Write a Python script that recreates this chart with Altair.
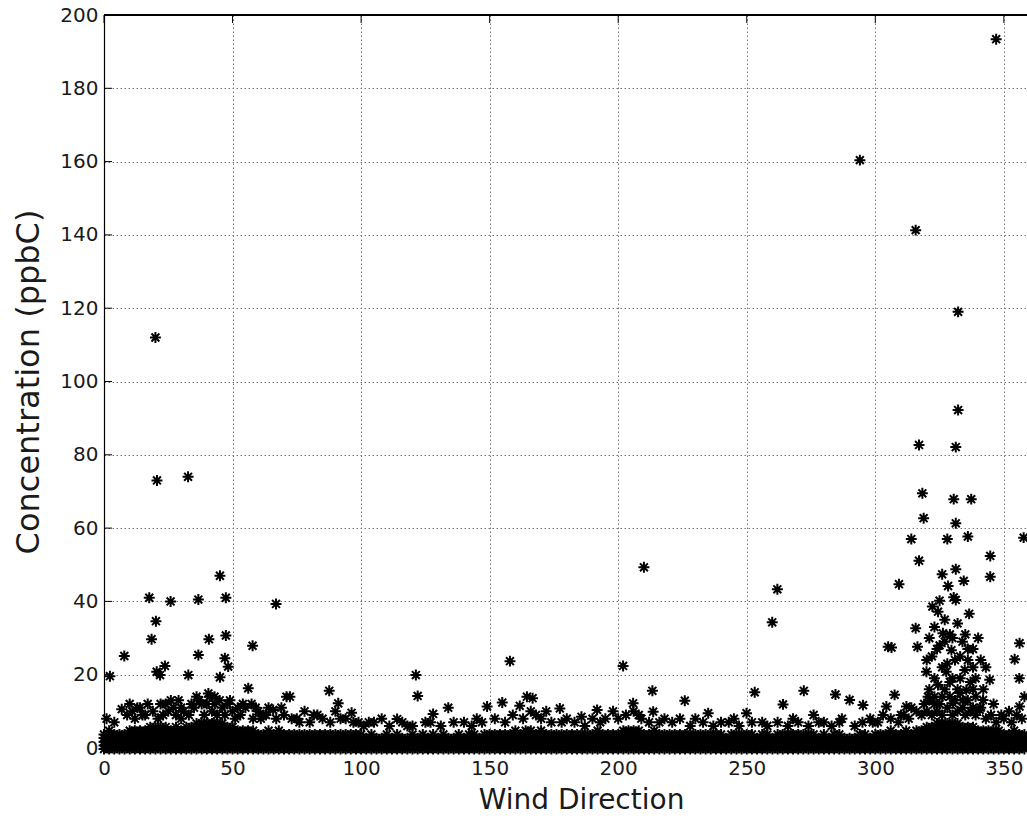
import altair as alt
import pandas as pd

# ---------------- data ----------------
x_ticks = [0, 50, 100, 150, 200, 250, 300, 350]
y_ticks = [0, 20, 40, 60, 80, 100, 120, 140, 160, 180, 200]

# dense band near the floor: sampled wind directions and the top of the solid band
band_x = [
    0, 2, 4, 6, 8, 10, 12, 14, 16, 18,
    20, 22, 24, 26, 28, 30, 32, 34, 36, 38,
    40, 42, 44, 46, 48, 50, 52, 54, 56, 58,
    60, 62, 64, 66, 68, 70, 72, 74, 76, 78,
    80, 82, 84, 86, 88, 90, 92, 94, 96, 98,
    100, 102, 104, 106, 108, 110, 112, 114, 116, 118,
    120, 122, 124, 126, 128, 130, 132, 134, 136, 138,
    140, 142, 144, 146, 148, 150, 152, 154, 156, 158,
    160, 162, 164, 166, 168, 170, 172, 174, 176, 178,
    180, 182, 184, 186, 188, 190, 192, 194, 196, 198,
    200, 202, 204, 206, 208, 210, 212, 214, 216, 218,
    220, 222, 224, 226, 228, 230, 232, 234, 236, 238,
    240, 242, 244, 246, 248, 250, 252, 254, 256, 258,
    260, 262, 264, 266, 268, 270, 272, 274, 276, 278,
    280, 282, 284, 286, 288, 290, 292, 294, 296, 298,
    300, 302, 304, 306, 308, 310, 312, 314, 316, 318,
    320, 322, 324, 326, 328, 330, 332, 334, 336, 338,
    340, 342, 344, 346, 348, 350, 352, 354, 356, 358,
]
band_top = [
    5, 6, 5, 5, 5, 6, 6, 6, 6, 7,
    7, 7, 7, 6, 7, 6, 7, 7, 8, 8,
    8, 8, 8, 8, 7, 7, 6, 6, 6, 6,
    5, 5, 6, 5, 6, 5, 5, 5, 5, 5,
    5, 5, 5, 5, 5, 5, 5, 5, 5, 5,
    5, 4, 5, 4, 4, 5, 4, 5, 4, 4,
    5, 4, 5, 4, 5, 4, 5, 4, 4, 5,
    4, 5, 5, 4, 5, 5, 5, 5, 5, 5,
    6, 5, 6, 6, 5, 6, 5, 5, 5, 5,
    5, 5, 5, 5, 5, 5, 6, 5, 5, 5,
    5, 6, 6, 6, 6, 5, 5, 6, 5, 5,
    5, 5, 5, 5, 5, 5, 5, 5, 5, 5,
    5, 4, 5, 5, 5, 5, 5, 4, 5, 5,
    4, 5, 5, 5, 5, 5, 5, 5, 5, 4,
    5, 4, 5, 5, 4, 4, 4, 5, 5, 4,
    5, 5, 5, 6, 5, 5, 6, 5, 6, 6,
    7, 7, 8, 8, 8, 8, 8, 7, 7, 7,
    6, 6, 6, 6, 6, 5, 5, 6, 5, 5,
]
band_levels = [-0.3, 0.7, 1.7, 2.7, 3.7, 4.7, 5.7, 6.7, 7.7]

# individual points above the band
pt_x = [
    20, 20.6, 32.7, 17.6, 25.9, 36.7, 45.1, 47.4, 66.9, 20.2, 18.5, 40.8, 47.4, 57.8,
    7.9, 36.7, 47, 48.3, 23.7, 20.5, 21.8, 2.3, 32.8, 45.1, 56.1, 71, 57.4, 6.9, 65.8, 40.6,
    121.3, 122, 157.9, 87.6, 81.6, 91.1, 96.3, 72.3, 114, 128, 133.9, 149, 154.9, 161.7, 164.5,
    210, 201.9, 213.3, 225.9, 253.1, 166.7, 191.8, 205.8, 185.7, 235, 249.9, 177.3, 213.6,
    261.9, 259.9, 264.1, 272.2, 284.5, 290, 295.2, 305, 304.3,
    294, 347, 315.7, 332.2, 332.2, 317, 331.3,
    318.3, 330.5, 337.3, 318.8, 331.3, 314, 328, 336, 357.7, 317, 344.7, 344.7, 331.3, 326,
    334.4, 309.2, 328.3, 330.5, 325, 322.2, 331.3, 336.5, 324.4, 315.7, 326.3, 333.9, 306.3,
    316.4, 329.6, 356.1, 354.2, 319.9, 327.6, 334.8, 344.5, 324.4, 335.4, 307.5, 341.9, 356.1,
    312.1, 320.5, 330.2, 340.6,
    322, 325, 328, 330, 332, 323, 327, 333, 336, 338, 321, 326, 329, 332, 337, 339, 323, 334,
    338, 342, 346, 349, 352, 358, 356, 343, 340,
    320, 321, 323, 324, 326, 327, 329, 330, 331, 333, 335, 336, 338, 339, 341,
    10, 13, 15, 24, 27, 29, 31, 34, 37, 43, 49, 52, 54, 60, 62, 69, 75, 78, 85, 92, 99, 103,
    108, 118, 125, 140, 145, 168, 172, 180, 195, 198, 208, 218, 230, 240, 245, 256, 268, 276,
    280, 287, 298, 310, 316,
    1, 4, 9, 11, 12, 14, 16, 17, 19, 21, 22, 23, 25, 26, 28, 30, 30, 33, 35, 36, 38, 39, 40,
    41, 42, 43, 44, 45, 46, 47, 48, 50, 51, 53, 55, 58, 59, 61, 63, 64, 67, 70, 73, 76, 80,
    83, 88, 90, 94, 97,
    101, 105, 111, 116, 120, 127, 131, 136, 143, 147, 152, 156, 159, 163, 166, 170, 174, 178,
    183, 187, 190, 193, 200, 203, 206, 209, 212, 216, 221, 224, 228, 233, 237, 243, 247, 252,
    258, 262, 266, 270, 274, 278, 283, 286, 292, 295, 299,
    301, 303, 306, 309, 311, 313, 314, 318, 319, 320, 321, 322, 323, 324, 325, 326, 327, 328,
    329, 330, 331, 332, 333, 334, 335, 336, 337, 338, 339, 341, 343, 345, 347, 350, 353, 355,
    357,
]
pt_y = [
    112, 73, 74, 41, 40, 40.5, 47, 41, 39.3, 34.6, 29.7, 29.7, 30.7, 27.9,
    25.1, 25.4, 24.5, 22.2, 22.4, 20.8, 19.9, 19.6, 19.9, 19.3, 16.3, 14, 12, 10.6, 10.4, 14.9,
    19.9, 14.2, 23.7, 15.6, 9, 12.2, 9.6, 14, 7.9, 9.3, 11, 11.3, 12.4, 11.5, 14,
    49.3, 22.4, 15.6, 12.9, 15.2, 13.6, 10.4, 12.2, 8.5, 9.5, 9.5, 10.8, 9.9,
    43.3, 34.3, 11.9, 15.6, 14.6, 13.1, 11.7, 27.6, 11.3,
    160.4, 193.4, 141.3, 119, 92.2, 82.7, 82.1,
    69.5, 67.9, 67.9, 62.7, 61.3, 57, 57, 57.7, 57.4, 51.1, 52.4, 46.7, 48.8, 47.4,
    45.6, 44.7, 44.2, 41.1, 40.2, 38.6, 40.4, 36.6, 37.2, 32.7, 31.3, 29, 27.4,
    27.6, 26.7, 28.6, 24.2, 20.8, 20.8, 21.3, 18.6, 17.2, 15.8, 14.5, 13.1, 11.3,
    11.3, 14, 12.2, 10.4,
    25, 28, 23, 30, 34, 33, 35, 25, 27, 22, 16, 14, 18, 16, 18, 14, 12, 13,
    11, 16, 12, 9, 10, 14, 19, 22, 30,
    24, 30, 19, 27, 22, 29, 31, 19, 24, 19, 31, 24, 27, 19, 24,
    12, 11, 9, 12, 11, 13, 10, 12, 13, 14, 13, 11, 12, 10, 9, 11, 8, 10, 8, 8, 7, 7,
    8, 6, 7, 7, 8, 9, 10, 8, 8, 10, 9, 8, 8, 7, 8, 7, 8, 9,
    7, 8, 8, 9, 10,
    8, 7, 9, 10, 8, 11, 9, 12, 10, 8, 12, 9, 10, 13, 9, 11, 8, 9, 11, 14, 12, 9, 12,
    14, 10, 12, 9, 13, 11, 9, 12, 10, 8, 9, 11, 8, 11, 8, 9, 11, 8, 9, 8, 7, 7,
    9, 7, 10, 8, 7,
    6, 7, 6, 7, 6, 7, 6, 7, 6, 7, 8, 7, 9, 8, 10, 8, 7, 7,
    7, 6, 8, 7, 8, 9, 10, 8, 7, 7, 7, 8, 6, 7, 6, 7, 6, 7,
    6, 7, 6, 7, 6, 7, 6, 7, 6, 7, 7,
    7, 9, 8, 7, 9, 8, 11, 9, 12, 10, 13, 9, 14, 10, 12, 9, 16, 11,
    14, 9, 13, 10, 15, 11, 9, 13, 10, 16, 9, 11, 8, 9, 7, 8, 7, 9,
    8,
]

# ---------------- build tables ----------------
rows = []
for bx, top in zip(band_x, band_top):
    for lv in band_levels:
        if lv <= top - 1:
            rows.append({"x": bx, "y": lv})
for px, py in zip(pt_x, pt_y):
    rows.append({"x": px, "y": py})
df = pd.DataFrame(rows)

xt = pd.DataFrame({"x": x_ticks})
yt = pd.DataFrame({"y": y_ticks})

FONT = "DejaVu Sans"
ASTERISK = "M-1,0L1,0M0,-1L0,1M-0.72,-0.72L0.72,0.72M-0.72,0.72L0.72,-0.72"

W, H = 923, 733
xscale = alt.Scale(domain=[0, 359], nice=False, zero=False)
yscale = alt.Scale(domain=[0, 200], nice=False)

x_axis = alt.Axis(
    values=x_ticks, grid=True, gridDash=[1.5, 2.5], gridColor="#777", gridWidth=1,
    tickSize=0, domain=True, domainColor="#000", domainWidth=1.2,
    labelFont=FONT, labelFontSize=20, labelColor="#1a1a1a", labelPadding=10,
    labelFlush=False, labelOverlap=False,
    title="Wind Direction", titleFont=FONT, titleFontSize=28, titleFontWeight="normal",
    titleColor="#1a1a1a", titleX=477, titleY=52, titleBaseline="middle",
)
y_axis = alt.Axis(
    values=y_ticks, grid=True, gridDash=[1.5, 2.5], gridColor="#777", gridWidth=1,
    tickSize=0, domain=True, domainColor="#000", domainWidth=1.2,
    labelFont=FONT, labelFontSize=20, labelColor="#1a1a1a", labelPadding=6,
    labelFlush=False, labelOverlap=False,
    title="Concentration (ppbC)", titleFont=FONT, titleFontSize=32, titleFontWeight="normal",
    titleColor="#1a1a1a", titleX=-76, titleBaseline="middle",
)

points = alt.Chart(df).mark_point(
    shape=ASTERISK, filled=False, color="#000", strokeWidth=2, size=120, opacity=1,
).encode(
    x=alt.X("x:Q", scale=xscale, axis=x_axis),
    y=alt.Y("y:Q", scale=yscale, axis=y_axis),
)

left_ticks = alt.Chart(yt).mark_rule(color="#000", strokeWidth=1).encode(
    y=alt.Y("y:Q", scale=yscale), x=alt.value(0), x2=alt.value(8)
)
bottom_ticks = alt.Chart(xt).mark_rule(color="#000", strokeWidth=1).encode(
    x=alt.X("x:Q", scale=xscale), y=alt.value(H), y2=alt.value(H - 8)
)
top_ticks = alt.Chart(xt).mark_rule(color="#000", strokeWidth=1).encode(
    x=alt.X("x:Q", scale=xscale), y=alt.value(0), y2=alt.value(8)
)
top_border = alt.Chart(xt).mark_rule(color="#000", strokeWidth=1.8).encode(
    x=alt.value(0), x2=alt.value(W), y=alt.value(0)
)

chart = alt.layer(points, left_ticks, bottom_ticks, top_ticks, top_border).properties(
    width=W, height=H,
    padding={"left": 104, "top": 15, "right": 0, "bottom": 69},
    autosize=alt.AutoSizeParams(type="none"),
).configure_view(stroke=None).configure(background="white")

chart.save("out.html", embed_options={"renderer": "svg", "actions": False})
